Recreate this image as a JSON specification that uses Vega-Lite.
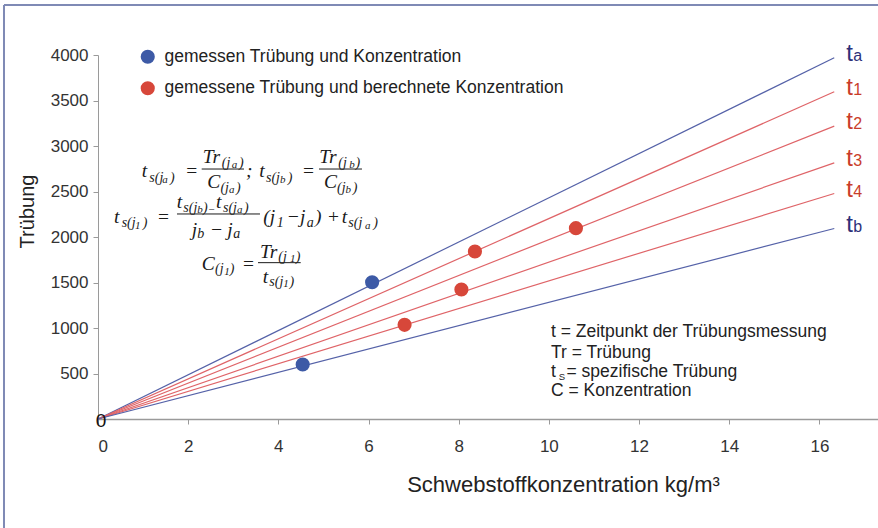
{
  "$schema": "https://vega.github.io/schema/vega-lite/v6.json",
  "width": 780,
  "height": 364,
  "autosize": {"type": "none"},
  "padding": {"left": 98, "top": 55, "right": 0, "bottom": 109},
  "background": "white",
  "config": {"view": {"stroke": null}, "font": "Liberation Sans"},
  "datasets": {
    "frame": [
      {"x": -2.085, "x2": -2.085, "y": -1198, "y2": 4550},
      {"x": -2.085, "x2": 17.3, "y": 4550, "y2": 4550}
    ],
    "lines": [
      {"line": "ta", "x": 0, "y": 0}, {"line": "ta", "x": 16.33, "y": 3969},
      {"line": "t1", "x": 0, "y": 0}, {"line": "t1", "x": 16.33, "y": 3596},
      {"line": "t2", "x": 0, "y": 0}, {"line": "t2", "x": 16.33, "y": 3218},
      {"line": "t3", "x": 0, "y": 0}, {"line": "t3", "x": 16.33, "y": 2815},
      {"line": "t4", "x": 0, "y": 0}, {"line": "t4", "x": 16.33, "y": 2478},
      {"line": "tb", "x": 0, "y": 0}, {"line": "tb", "x": 16.33, "y": 2093}
    ],
    "ends": [
      {"line": "ta", "x": 16.33, "y": 3969, "t": "t", "sub": "a"},
      {"line": "t1", "x": 16.33, "y": 3596, "t": "t", "sub": "1"},
      {"line": "t2", "x": 16.33, "y": 3218, "t": "t", "sub": "2"},
      {"line": "t3", "x": 16.33, "y": 2815, "t": "t", "sub": "3"},
      {"line": "t4", "x": 16.33, "y": 2478, "t": "t", "sub": "4"},
      {"line": "tb", "x": 16.33, "y": 2093, "t": "t", "sub": "b"}
    ],
    "points": [
      {"typ": "gemessen Trübung und Konzentration", "x": 6.08, "y": 1503},
      {"typ": "gemessen Trübung und Konzentration", "x": 4.54, "y": 599},
      {"typ": "gemessene Trübung und berechnete Konzentration", "x": 8.36, "y": 1841},
      {"typ": "gemessene Trübung und berechnete Konzentration", "x": 10.6, "y": 2097},
      {"typ": "gemessene Trübung und berechnete Konzentration", "x": 8.06, "y": 1423},
      {"typ": "gemessene Trübung und berechnete Konzentration", "x": 6.8, "y": 1035}
    ],
    "origin": [{"x": 0, "y": 0, "t": "0"}],
    "fmain": [
      {"x": 0.969, "y": 2663, "t": "t"},
      {"x": 1.93, "y": 2663, "t": "="},
      {"x": 2.322, "y": 2810, "t": "Tr"},
      {"x": 2.424, "y": 2535, "t": "C"},
      {"x": 3.283, "y": 2663, "t": ";"},
      {"x": 3.578, "y": 2663, "t": "t"},
      {"x": 4.518, "y": 2663, "t": "="},
      {"x": 4.908, "y": 2810, "t": "Tr"},
      {"x": 5.013, "y": 2535, "t": "C"},
      {"x": 0.355, "y": 2159, "t": "t"},
      {"x": 1.302, "y": 2159, "t": "="},
      {"x": 1.746, "y": 2315, "t": "t"},
      {"x": 2.617, "y": 2315, "t": "t"},
      {"x": 2.078, "y": 2011, "t": "j"},
      {"x": 2.484, "y": 2011, "t": "−"},
      {"x": 2.868, "y": 2011, "t": "j"},
      {"x": 3.666, "y": 2159, "t": "(j"},
      {"x": 4.185, "y": 2159, "t": "−"},
      {"x": 4.48, "y": 2159, "t": "j"},
      {"x": 4.813, "y": 2159, "t": ")"},
      {"x": 5.072, "y": 2159, "t": "+"},
      {"x": 5.405, "y": 2159, "t": "t"},
      {"x": 2.3, "y": 1637, "t": "C"},
      {"x": 3.187, "y": 1637, "t": "="},
      {"x": 3.593, "y": 1766, "t": "Tr"},
      {"x": 3.653, "y": 1491, "t": "t"}
    ],
    "fsub": [
      {"x": 1.138, "y": 2608, "t": "s(j"},
      {"x": 1.597, "y": 2608, "t": ")"},
      {"x": 2.744, "y": 2773, "t": "(j"},
      {"x": 3.125, "y": 2773, "t": ")"},
      {"x": 2.716, "y": 2498, "t": "(j"},
      {"x": 3.06, "y": 2498, "t": ")"},
      {"x": 3.726, "y": 2608, "t": "s(j"},
      {"x": 4.207, "y": 2608, "t": ")"},
      {"x": 5.33, "y": 2773, "t": "(j"},
      {"x": 5.71, "y": 2773, "t": ")"},
      {"x": 5.302, "y": 2498, "t": "(j"},
      {"x": 5.65, "y": 2498, "t": ")"},
      {"x": 0.525, "y": 2110, "t": "s(j"},
      {"x": 0.991, "y": 2110, "t": ")"},
      {"x": 1.892, "y": 2278, "t": "s(j"},
      {"x": 2.329, "y": 2278, "t": ")"},
      {"x": 2.772, "y": 2278, "t": "s(j"},
      {"x": 3.238, "y": 2278, "t": ")"},
      {"x": 2.202, "y": 1986, "t": "b"},
      {"x": 3.001, "y": 1986, "t": "a"},
      {"x": 3.963, "y": 2110, "t": "1"},
      {"x": 4.629, "y": 2110, "t": "a"},
      {"x": 5.552, "y": 2110, "t": "s(j"},
      {"x": 6.106, "y": 2110, "t": ")"},
      {"x": 2.595, "y": 1601, "t": "(j"},
      {"x": 2.92, "y": 1601, "t": ")"},
      {"x": 3.999, "y": 1740, "t": "(j"},
      {"x": 4.385, "y": 1740, "t": ")"},
      {"x": 3.799, "y": 1462, "t": "s(j"},
      {"x": 4.245, "y": 1462, "t": ")"}
    ],
    "fsubsub": [
      {"x": 1.426, "y": 2590, "t": "a"},
      {"x": 2.965, "y": 2762, "t": "a"},
      {"x": 2.905, "y": 2480, "t": "a"},
      {"x": 4.037, "y": 2590, "t": "b"},
      {"x": 5.574, "y": 2762, "t": "b"},
      {"x": 5.49, "y": 2480, "t": "b"},
      {"x": 0.821, "y": 2088, "t": "1"},
      {"x": 2.202, "y": 2267, "t": "b"},
      {"x": 2.44, "y": 2262, "t": "−"},
      {"x": 3.083, "y": 2267, "t": "a"},
      {"x": 5.922, "y": 2088, "t": "a"},
      {"x": 2.8, "y": 1582, "t": "1"},
      {"x": 4.258, "y": 1725, "t": "1"},
      {"x": 4.11, "y": 1451, "t": "1"}
    ],
    "bars": [
      {"x": 2.3, "x2": 3.238, "y": 2747},
      {"x": 4.902, "x2": 5.855, "y": 2747},
      {"x": 1.752, "x2": 3.593, "y": 2253},
      {"x": 3.549, "x2": 4.496, "y": 1718}
    ],
    "notes": [
      {"x": 10.047, "y": 898, "t": "t = Zeitpunkt der Trübungsmessung"},
      {"x": 10.047, "y": 667, "t": "Tr = Trübung"},
      {"x": 10.047, "y": 458, "t": "t"},
      {"x": 10.39, "y": 458, "t": "= spezifische Trübung"},
      {"x": 10.047, "y": 253, "t": "C = Konzentration"}
    ],
    "notesub": [{"x": 10.22, "y": 425, "t": "S"}]
  },
  "encoding": {
    "x": {
      "field": "x", "type": "quantitative",
      "scale": {"domain": [0, 17.3], "nice": false, "zero": false},
      "axis": {
        "values": [0, 2, 4, 6, 8, 10, 12, 14, 16],
        "grid": false,
        "domainColor": "#9a9a9a", "domainWidth": 1.5,
        "tickColor": "#9a9a9a", "tickSize": 5,
        "labelFont": "Liberation Sans", "labelFontSize": 17, "labelColor": "#333333", "labelPadding": 14,
        "title": "Schwebstoffkonzentration kg/m³",
        "titleFont": "Liberation Sans", "titleFontSize": 22, "titleFontWeight": "normal", "titleColor": "#222222",
        "titleX": 465, "titleY": 72, "titleAlign": "center", "titleBaseline": "alphabetic"
      }
    },
    "y": {
      "field": "y", "type": "quantitative",
      "scale": {"domain": [0, 4000], "nice": false},
      "axis": {
        "values": [500, 1000, 1500, 2000, 2500, 3000, 3500, 4000],
        "format": "d",
        "grid": false,
        "domainColor": "#9a9a9a", "domainWidth": 1,
        "tickColor": "#9a9a9a", "tickSize": 5,
        "labelFont": "Liberation Sans", "labelFontSize": 17, "labelColor": "#333333", "labelPadding": 5,
        "title": "Trübung",
        "titleFont": "Liberation Sans", "titleFontSize": 20, "titleFontWeight": "normal", "titleColor": "#222222",
        "titleX": -71, "titleY": 156, "titleAngle": 270, "titleAlign": "center", "titleBaseline": "middle"
      }
    }
  },
  "layer": [
    {
      "data": {"name": "frame"},
      "mark": {"type": "rule", "color": "#7f8ab5", "strokeWidth": 2},
      "encoding": {"x2": {"field": "x2"}, "y2": {"field": "y2"}}
    },
    {
      "data": {"name": "lines"},
      "mark": {"type": "line", "strokeWidth": 1.2},
      "encoding": {
        "color": {
          "field": "line", "type": "nominal", "legend": null,
          "scale": {"domain": ["ta", "t1", "t2", "t3", "t4", "tb"], "range": ["#5562a8", "#df6468", "#df6468", "#df6468", "#df6468", "#5562a8"]}
        }
      }
    },
    {
      "data": {"name": "ends"},
      "mark": {"type": "text", "align": "left", "baseline": "alphabetic", "dx": 12, "dy": 3, "fontSize": 24, "font": "Liberation Sans"},
      "encoding": {
        "text": {"field": "t"},
        "color": {
          "field": "line", "type": "nominal", "legend": null,
          "scale": {"domain": ["ta", "t1", "t2", "t3", "t4", "tb"], "range": ["#2d3179", "#c93d2a", "#c93d2a", "#c93d2a", "#c93d2a", "#2d3179"]}
        }
      }
    },
    {
      "data": {"name": "ends"},
      "mark": {"type": "text", "align": "left", "baseline": "alphabetic", "dx": 19, "dy": 3, "fontSize": 16, "font": "Liberation Sans"},
      "encoding": {
        "text": {"field": "sub"},
        "color": {
          "field": "line", "type": "nominal", "legend": null,
          "scale": {"domain": ["ta", "t1", "t2", "t3", "t4", "tb"], "range": ["#2d3179", "#c93d2a", "#c93d2a", "#c93d2a", "#c93d2a", "#2d3179"]}
        }
      }
    },
    {
      "data": {"name": "points"},
      "mark": {"type": "circle", "size": 200, "opacity": 1},
      "encoding": {
        "color": {
          "field": "typ", "type": "nominal",
          "scale": {"domain": ["gemessen Trübung und Konzentration", "gemessene Trübung und berechnete Konzentration"], "range": ["#3d5aa6", "#d7473a"]},
          "legend": {
            "title": null, "orient": "none", "legendX": 41, "legendY": -7, "padding": 0,
            "symbolType": "circle", "symbolSize": 200, "symbolStrokeWidth": 0, "symbolOpacity": 1,
            "labelFont": "Liberation Sans", "labelFontSize": 17.5, "labelColor": "#222222", "labelOffset": 8, "labelLimit": 700,
            "rowPadding": 12.5
          }
        }
      }
    },
    {
      "data": {"name": "origin"},
      "mark": {"type": "text", "align": "center", "baseline": "middle", "dx": 3, "dy": 2, "fontSize": 19, "font": "Liberation Sans", "color": "#111111"},
      "encoding": {"text": {"field": "t"}}
    },
    {
      "data": {"name": "bars"},
      "mark": {"type": "rule", "color": "#1a1a1a", "strokeWidth": 1},
      "encoding": {"x2": {"field": "x2"}}
    },
    {
      "data": {"name": "fmain"},
      "mark": {"type": "text", "align": "left", "baseline": "alphabetic", "fontSize": 19.5, "font": "Liberation Serif", "fontStyle": "italic", "color": "#1a1a1a"},
      "encoding": {"text": {"field": "t"}}
    },
    {
      "data": {"name": "fsub"},
      "mark": {"type": "text", "align": "left", "baseline": "alphabetic", "fontSize": 14, "font": "Liberation Serif", "fontStyle": "italic", "color": "#1a1a1a"},
      "encoding": {"text": {"field": "t"}}
    },
    {
      "data": {"name": "fsubsub"},
      "mark": {"type": "text", "align": "left", "baseline": "alphabetic", "fontSize": 11, "font": "Liberation Serif", "fontStyle": "italic", "color": "#1a1a1a"},
      "encoding": {"text": {"field": "t"}}
    },
    {
      "data": {"name": "notes"},
      "mark": {"type": "text", "align": "left", "baseline": "alphabetic", "fontSize": 17.5, "font": "Liberation Sans", "color": "#222222"},
      "encoding": {"text": {"field": "t"}}
    },
    {
      "data": {"name": "notesub"},
      "mark": {"type": "text", "align": "left", "baseline": "alphabetic", "fontSize": 9.5, "font": "Liberation Sans", "color": "#222222"},
      "encoding": {"text": {"field": "t"}}
    }
  ],
  "resolve": {"scale": {"color": "independent"}, "legend": {"color": "independent"}}
}
